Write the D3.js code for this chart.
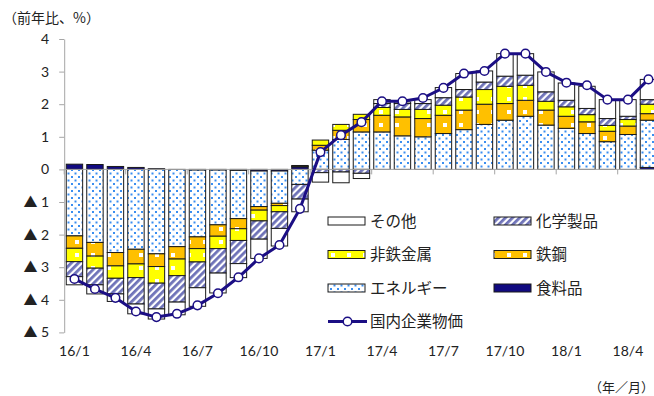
<!DOCTYPE html>
<html><head><meta charset="utf-8">
<script src="https://cdn.jsdelivr.net/npm/d3@7"></script>
<style>
body{margin:0;background:#fff;}
svg{display:block;}
.num{font-family:Lato,"Open Sans",sans-serif;font-size:14px;fill:#222;}
.jp{font-family:"Noto Sans CJK JP",sans-serif;fill:#222;}
</style></head>
<body>
<svg id="chart" width="654" height="396"></svg>
<script>
const months = ["16/1","16/2","16/3","16/4","16/5","16/6","16/7","16/8","16/9","16/10","16/11","16/12",
  "17/1","17/2","17/3","17/4","17/5","17/6","17/7","17/8","17/9","17/10","17/11","17/12",
  "18/1","18/2","18/3","18/4","18/5"];
const xTickLabels = ["16/1","16/4","16/7","16/10","17/1","17/4","17/7","17/10","18/1","18/4"];
const yTicks = [4,3,2,1,0,-1,-2,-3,-4,-5];

const food      = [0.16,0.15,0.09,0.06,0.02,0.00,-0.02,-0.02,-0.03,-0.05,-0.05,0.08,
  0,0,0,0,0,0,0,0,0,0,0,0, 0,0,0,0,0.06];
const energy    = [-2.04,-2.24,-2.55,-2.45,-2.59,-2.37,-2.05,-1.68,-1.48,-1.09,-0.99,-0.46,
  0.59,0.92,1.15,1.15,1.03,1.00,1.10,1.22,1.38,1.51,1.63,1.36, 1.26,1.10,0.85,1.07,1.45];
const steel     = [-0.38,-0.42,-0.41,-0.45,-0.39,-0.38,-0.36,-0.35,-0.31,-0.11,-0.07,0.02,
  0.15,0.28,0.38,0.51,0.58,0.56,0.56,0.60,0.62,0.51,0.49,0.46, 0.37,0.36,0.32,0.26,0.20];
const nonferrous= [-0.41,-0.37,-0.38,-0.42,-0.51,-0.51,-0.41,-0.38,-0.36,-0.33,-0.19,0.02,
  0.16,0.18,0.16,0.24,0.23,0.28,0.31,0.40,0.45,0.53,0.46,0.27, 0.29,0.22,0.18,0.20,0.29];
const chemicals = [-0.46,-0.51,-0.48,-0.81,-0.79,-0.81,-0.79,-0.75,-0.71,-0.56,-0.51,-0.45,
  -0.10,-0.08,-0.12,0.12,0.18,0.18,0.23,0.23,0.23,0.31,0.31,0.29, 0.20,0.19,0.21,0.10,0.14];
const others    = [-0.25,-0.28,-0.23,-0.30,-0.31,-0.39,-0.57,-0.61,-0.43,-0.59,-0.54,-0.39,
  -0.29,-0.33,-0.16,0.12,0.05,0.12,0.31,0.49,0.34,0.69,0.66,0.61, 0.53,0.68,0.58,0.51,0.62];
const cgpi      = [-3.36,-3.67,-3.94,-4.36,-4.53,-4.43,-4.17,-3.80,-3.31,-2.73,-2.32,-1.21,
  0.53,1.05,1.45,2.09,2.09,2.19,2.50,2.94,3.02,3.55,3.55,2.99, 2.66,2.58,2.14,2.14,2.76];

const seriesKeys = ["food","energy","steel","nonferrous","chemicals","others"];
const seriesNames = {food:"食料品",energy:"エネルギー",steel:"鉄鋼",nonferrous:"非鉄金属",chemicals:"化学製品",others:"その他"};
const lineName = "国内企業物価";

const rows = months.map((m,i)=>({month:m, food:food[i], energy:energy[i], steel:steel[i],
  nonferrous:nonferrous[i], chemicals:chemicals[i], others:others[i], cgpi:cgpi[i]}));

const svg = d3.select("#chart");
const defs = svg.append("defs");

// patterns
const pDots = defs.append("pattern").attr("id","pat-energy").attr("patternUnits","userSpaceOnUse")
  .attr("width",7).attr("height",7);
pDots.append("rect").attr("width",7).attr("height",7).attr("fill","#fff");
pDots.append("rect").attr("x",1).attr("y",1).attr("width",2).attr("height",2).attr("fill","#3a8ef0");
pDots.append("rect").attr("x",4.5).attr("y",4.5).attr("width",2).attr("height",2).attr("fill","#3a8ef0");

const pHatch = defs.append("pattern").attr("id","pat-chem").attr("patternUnits","userSpaceOnUse")
  .attr("width",5).attr("height",5).attr("patternTransform","rotate(45)");
pHatch.append("rect").attr("width",5).attr("height",5).attr("fill","#fff");
pHatch.append("rect").attr("width",2.8).attr("height",5).attr("fill","#6e72b8");

function squares(id, color){
  const p = defs.append("pattern").attr("id",id).attr("patternUnits","userSpaceOnUse")
    .attr("width",16).attr("height",13).attr("x",2).attr("y",3);
  p.append("rect").attr("width",16).attr("height",13).attr("fill",color);
  p.append("rect").attr("x",9).attr("y",3).attr("width",4).attr("height",4).attr("fill","#fff");
}
squares("pat-steel","#ffc000");
squares("pat-nonf","#ffff00");

const fills = {food:"#110a80", energy:"url(#pat-energy)", steel:"url(#pat-steel)",
  nonferrous:"url(#pat-nonf)", chemicals:"url(#pat-chem)", others:"#ffffff"};

const x = d3.scaleBand().domain(months).range([64.2, 64.2 + 29*20.5]).paddingInner(0.2).paddingOuter(0.1);
const y = d3.scaleLinear().domain([-5,4]).range([332.4, 39]);

const stack = d3.stack().keys(seriesKeys).offset(d3.stackOffsetDiverging);
const stacked = stack(rows);

// bars
const g = svg.append("g");
stacked.forEach(s=>{
  g.append("g").selectAll("rect").data(s).join("rect")
    .attr("x", d=>x(d.data.month))
    .attr("width", x.bandwidth())
    .attr("y", d=>y(Math.max(d[0],d[1])))
    .attr("height", d=>Math.abs(y(d[0])-y(d[1])))
    .attr("fill", fills[s.key])
    .attr("stroke", "#1a1a1a").attr("stroke-width", 1);
});

// y axis
const yAxis = d3.axisLeft(y).tickValues(yTicks).tickSize(5).tickSizeOuter(0)
  .tickFormat(v=> v<0 ? "▲ "+Math.abs(v) : String(v));
const ya = svg.append("g").attr("transform","translate(64.2,0)").call(yAxis);
ya.select(".domain").attr("stroke","#a6a6a6");
ya.selectAll(".tick line").attr("stroke","#a6a6a6");
ya.selectAll(".tick text").attr("class","num").attr("x",-15).style("font-family","Lato,'Noto Sans CJK JP',sans-serif").style("font-size","14px").attr("fill","#222");

// zero line with ticks at band boundaries
const step = x.step();
svg.append("line").attr("x1",64.2).attr("x2",654).attr("y1",y(0)).attr("y2",y(0))
  .attr("stroke","#a6a6a6").attr("stroke-width",1);
svg.append("g").selectAll("line").data(xTickLabels).join("line")
  .attr("x1",d=>x(d)-step*0.1).attr("x2",d=>x(d)-step*0.1)
  .attr("y1",y(0)).attr("y2",y(0)+5).attr("stroke","#a6a6a6");

// x labels
const xAxis = d3.axisBottom(x).tickValues(xTickLabels).tickSize(0);
const xa = svg.append("g").attr("transform","translate(0,344)").call(xAxis);
xa.select(".domain").remove();
xa.selectAll(".tick text").attr("class","num").attr("dy","0.71em").attr("y",2)
  .style("font-family","Lato,sans-serif").style("font-size","14px").attr("fill","#222");

// line
const line = d3.line().x(d=>x(d.month)+x.bandwidth()/2).y(d=>y(d.cgpi));
svg.append("path").datum(rows).attr("d",line).attr("fill","none")
  .attr("stroke","#1b0e84").attr("stroke-width",3).attr("stroke-linejoin","round");
svg.append("g").selectAll("circle").data(rows).join("circle")
  .attr("cx",d=>x(d.month)+x.bandwidth()/2).attr("cy",d=>y(d.cgpi)).attr("r",4.3)
  .attr("fill","#fff").attr("stroke","#1b0e84").attr("stroke-width",1.5);

// titles
svg.append("text").attr("class","jp").attr("x",3).attr("y",23).style("font-size","14px").text("（前年比、%）");
svg.append("text").attr("class","jp").attr("x",654).attr("y",392).attr("text-anchor","end").style("font-size","13px").text("（年／月）");

// legend
const legendItems = [
  {key:"others", col:0,row:0},{key:"chemicals",col:1,row:0},
  {key:"nonferrous",col:0,row:1},{key:"steel",col:1,row:1},
  {key:"energy",col:0,row:2},{key:"food",col:1,row:2}
];
const colX = [328, 494], rowY = [221, 254.5, 288, 321.5];
const lg = svg.append("g");
legendItems.forEach(it=>{
  const gx = colX[it.col], gy = rowY[it.row];
  lg.append("rect").attr("x",gx).attr("y",gy-4).attr("width",37).attr("height",8)
    .attr("fill",fills[it.key]).attr("stroke","#1a1a1a").attr("stroke-width",1);
  lg.append("text").attr("class","jp").attr("x",gx+42).attr("y",gy+5.5).style("font-size","15.5px")
    .text(seriesNames[it.key]);
});
lg.append("line").attr("x1",328).attr("x2",367).attr("y1",rowY[3]).attr("y2",rowY[3])
  .attr("stroke","#1b0e84").attr("stroke-width",3);
lg.append("circle").attr("cx",347.5).attr("cy",rowY[3]).attr("r",4.3).attr("fill","#fff")
  .attr("stroke","#1b0e84").attr("stroke-width",1.5);
lg.append("text").attr("class","jp").attr("x",370).attr("y",rowY[3]+5.5).style("font-size","15.5px").text(lineName);
</script>
</body></html>
